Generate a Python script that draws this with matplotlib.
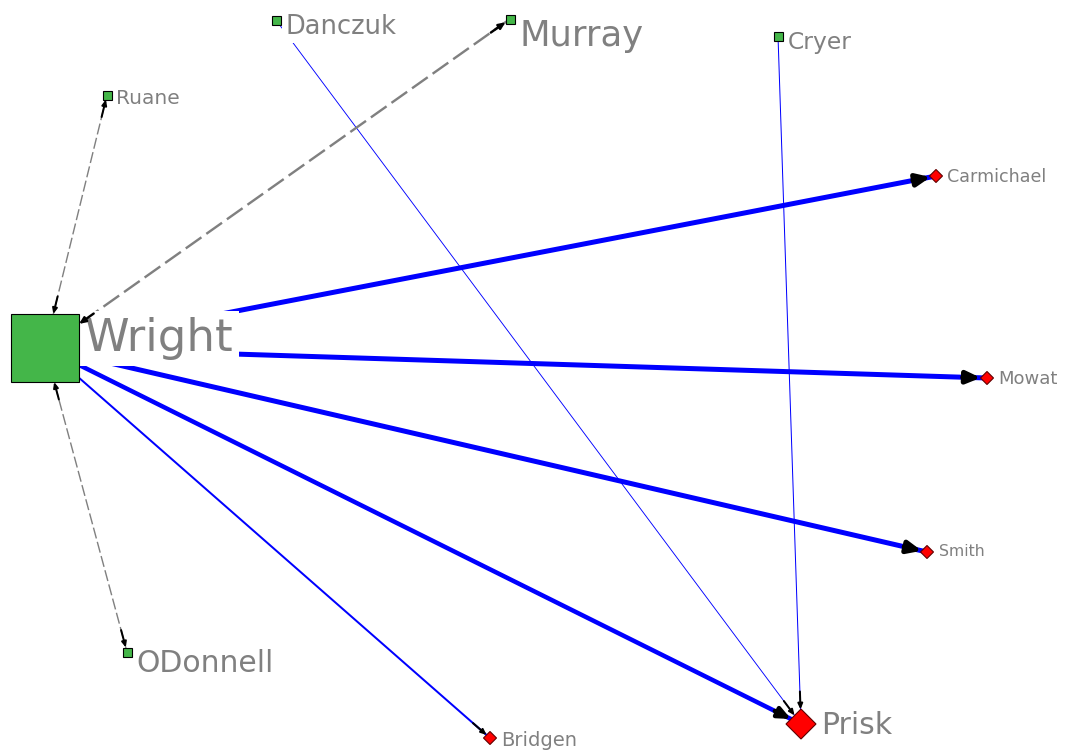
import numpy as np
import matplotlib
matplotlib.use('Agg')
import matplotlib.pyplot as plt
from matplotlib.patches import Rectangle, RegularPolygon

# nodes (positions in pixel space of the original drawing)
names = ['Wright', 'Ruane', 'Danczuk', 'Murray', 'Cryer', 'ODonnell',
         'Carmichael', 'Mowat', 'Smith', 'Prisk', 'Bridgen']
node_x = [45, 107, 276, 510, 778, 127, 936, 987, 927, 801, 490]
node_y = [348, 95, 20, 19, 36, 652, 176, 378, 552, 724, 738]
node_group = ['sq', 'sq', 'sq', 'sq', 'sq', 'sq', 'dm', 'dm', 'dm', 'dm', 'dm']
node_size = [68, 9, 9, 9, 9, 9, 13, 13, 13, 30, 13]
label_size = [32.5, 14.5, 18.5, 25.5, 16.8, 21.5, 12.6, 13, 11.3, 21.5, 14]
label_dy = [3, -1, -2, 4.5, 0, 1, -1, -1, -1, 2, -1]

# edges: source, target, weight, kind
edge_src = ['Wright', 'Wright', 'Wright', 'Wright', 'Wright', 'Danczuk', 'Cryer',
            'Ruane', 'Murray', 'ODonnell']
edge_dst = ['Carmichael', 'Mowat', 'Smith', 'Prisk', 'Bridgen', 'Prisk', 'Prisk',
            'Wright', 'Wright', 'Wright']
edge_w = [5, 5, 5, 4.5, 2, 0.9, 1, 1.4, 2.4, 1.4]
edge_dashed = [False] * 7 + [True] * 3

pos = {n: (x, y) for n, x, y in zip(names, node_x, node_y)}
size = dict(zip(names, node_size))
group = dict(zip(names, node_group))

fig = plt.figure(figsize=(10.65, 7.54), dpi=100)
ax = fig.add_axes([0, 0, 1, 1])
ax.set_xlim(0, 1065)
ax.set_ylim(754, 0)
ax.axis('off')

def boundary(n, ux, uy):
    # distance from node centre to its edge along direction (ux, uy)
    h = size[n] / 2
    if group[n] == 'sq':
        return h / max(abs(ux), abs(uy))
    return h / (abs(ux) + abs(uy))

def stub(a, b, lw):
    # black arrow tip at node b on the edge a->b
    (x0, y0), (x1, y1) = pos[a], pos[b]
    d = np.hypot(x1 - x0, y1 - y0)
    ux, uy = (x1 - x0) / d, (y1 - y0) / d
    r = boundary(b, ux, uy)
    tip = (x1 - ux * r, y1 - uy * r)
    tail = (tip[0] - ux * 18, tip[1] - uy * 18)
    ax.annotate('', xy=tip, xytext=tail, zorder=3,
                arrowprops=dict(arrowstyle='-|>,head_length=0.5,head_width=0.22',
                                color='black', lw=max(lw, 2) * 0.72,
                                mutation_scale=max(lw, 2) * 3.2,
                                shrinkA=0, shrinkB=0))

for s, t, w, dsh in zip(edge_src, edge_dst, edge_w, edge_dashed):
    (x0, y0), (x1, y1) = pos[s], pos[t]
    if dsh:
        ax.plot([x0, x1], [y0, y1], color='#808080', lw=w * 0.72,
                dashes=(8, 2.5), zorder=1, solid_capstyle='butt')
        stub(s, t, w)
        stub(t, s, w)
    else:
        ax.plot([x0, x1], [y0, y1], color='#0000ff', lw=w * 0.72, zorder=1)
        stub(s, t, w)

for n, x, y, g in zip(names, node_x, node_y, node_group):
    s = size[n]
    if g == 'sq':
        ax.add_patch(Rectangle((x - s / 2, y - s / 2), s, s, facecolor='#44b649',
                               edgecolor='black', lw=0.8, zorder=4))
    else:
        ax.add_patch(RegularPolygon((x, y), 4, radius=s / 2, facecolor='#ff0000',
                                    edgecolor='#600000', lw=0.8, zorder=4))

for n, x, y, fs, dy in zip(names, node_x, node_y, label_size, label_dy):
    h = size[n] / 2
    ax.text(x + h + 5, y - h + dy, n, fontsize=fs, color='#808080', va='top', ha='left',
            zorder=2, bbox=dict(facecolor='white', edgecolor='none', pad=fs * 0.13))

fig.savefig('out.png', dpi=100)
